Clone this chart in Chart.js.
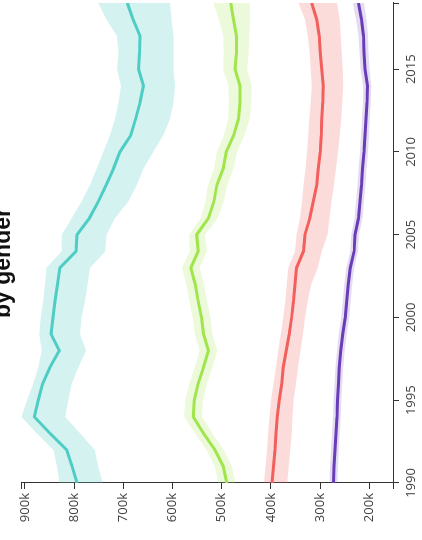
<!DOCTYPE html>
<html>
<head>
<meta charset="utf-8">
<script src="https://cdn.jsdelivr.net/npm/chart.js@4.4.1/dist/chart.umd.min.js"></script>
<style>
  html, body { margin: 0; padding: 0; background: #fff; overflow: hidden; }
  /* chart is drawn landscape and turned a quarter turn to the left */
  #wrap {
    position: absolute; left: 0; top: 0;
    width: 540px; height: 422px;
    transform-origin: 0 0;
    transform: translate(0, 540px) rotate(-90deg);
  }
  #chart { display: block; }
</style>
</head>
<body>
<div id="wrap"><canvas id="chart" width="540" height="422"></canvas></div>
<script>
const years = [1990, 1991, 1992, 1993, 1994, 1995, 1996, 1997, 1998, 1999,
               2000, 2001, 2002, 2003, 2004, 2005, 2006, 2007, 2008, 2009,
               2010, 2011, 2012, 2013, 2014, 2015, 2016, 2017, 2018, 2019];
const yearTicks = [1990, 1995, 2000, 2005, 2010, 2015];
const valueTicks = [200, 300, 400, 500, 600, 700, 800, 900];   // in thousands

// values in thousands
const tealMid  = [794, 804, 815, 849, 881, 873, 864, 849, 830, 847, 843, 839, 834, 829, 796,
                  794, 769, 751, 735, 720, 707, 685, 675, 666, 659, 669, 667, 666, 680, 692];
const tealHigh = [830, 835, 842, 876, 907, 896, 883, 873, 866, 871, 868, 863, 859, 856, 825,
                  825, 805, 785, 768, 754, 741, 727, 717, 710, 705, 713, 710, 713, 734, 751];
const tealLow  = [742, 751, 758, 788, 818, 812, 805, 791, 776, 788, 785, 778, 773, 768, 737,
                  734, 717, 690, 673, 659, 639, 619, 605, 598, 595, 598, 598, 598, 602, 605];

const greenMid  = [490, 497, 514, 537, 558, 556, 548, 537, 527, 537, 541, 548, 554, 563, 548,
                   551, 527, 516, 510, 497, 491, 476, 466, 463, 463, 473, 470, 470, 476, 482];
const greenHigh = [507, 514, 531, 555, 576, 574, 566, 555, 545, 555, 559, 566, 572, 581, 565,
                   566, 543, 533, 528, 516, 510, 496, 487, 486, 487, 497, 496, 497, 506, 517];
const greenLow  = [472, 479, 496, 519, 540, 538, 530, 519, 509, 519, 523, 530, 536, 545, 530,
                   534, 508, 496, 489, 476, 469, 454, 443, 440, 439, 448, 445, 444, 442, 443];

const redMid  = [398, 395, 392, 390, 387, 383, 378, 375, 369, 363, 358, 354, 351, 348, 334,
                 331, 321, 314, 307, 304, 300, 298, 297, 295, 294, 297, 300, 302, 307, 317];
const redHigh = [414, 411, 408, 406, 403, 400, 395, 390, 385, 380, 375, 371, 368, 365, 351,
                 348, 341, 337, 334, 330, 327, 324, 322, 319, 317, 319, 321, 325, 331, 344];
const redLow  = [367, 364, 361, 358, 356, 354, 349, 345, 340, 335, 331, 325, 318, 305, 297,
                 285, 281, 277, 272, 268, 264, 260, 257, 255, 253, 254, 256, 258, 260, 266];

const purpleMid  = [273, 272, 270, 268, 266, 265, 263, 261, 258, 254, 249, 246, 243, 239, 231,
                    229, 222, 219, 216, 214, 211, 209, 207, 205, 204, 209, 211, 212, 216, 222];
const purpleHigh = [281, 280, 278, 276, 274, 273, 271, 269, 266, 262, 257, 254, 251, 247, 239,
                    237, 230, 227, 224, 222, 219, 217, 215, 213, 213, 218, 220, 222, 227, 234];
const purpleLow  = [265, 264, 262, 260, 258, 257, 255, 253, 250, 246, 241, 238, 235, 231, 223,
                    221, 214, 211, 208, 206, 203, 201, 199, 197, 196, 200, 202, 203, 206, 211];

const axisColor = '#333';
const labelFont = { family: '"Open Sans", "Noto Sans", sans-serif', size: 13 };

const groups = [
  { mid: tealMid,   high: tealHigh,   low: tealLow,   line: '#4ecdc4', band: 'rgba(78, 205, 196, 0.25)' },
  { mid: greenMid,  high: greenHigh,  low: greenLow,  line: '#a0e54c', band: 'rgba(160, 229, 76, 0.2)' },
  { mid: redMid,    high: redHigh,    low: redLow,    line: '#f25f5c', band: 'rgba(242, 95, 92, 0.22)' },
  { mid: purpleMid, high: purpleHigh, low: purpleLow, line: '#6a3db8', band: 'rgba(106, 61, 184, 0.18)' }
];

const toPoints = vals => vals.map((v, i) => ({ x: years[i], y: v }));

// lines first so they are drawn on top of the bands
const datasets = [];
groups.forEach(g => {
  datasets.push({
    data: toPoints(g.mid), borderColor: g.line, borderWidth: 3,
    pointRadius: 0, tension: 0, fill: false
  });
});
groups.forEach(g => {
  datasets.push({
    data: toPoints(g.high), borderWidth: 0, pointRadius: 0, tension: 0,
    backgroundColor: g.band, fill: '+1'
  });
  datasets.push({
    data: toPoints(g.low), borderWidth: 0, pointRadius: 0, tension: 0, fill: false
  });
});

const outerTicks = {
  id: 'outerTicks',
  afterDraw(chart) {
    const { ctx, chartArea: a } = chart;
    ctx.save();
    ctx.strokeStyle = axisColor;
    ctx.lineWidth = 1;
    ctx.beginPath();
    ctx.moveTo(a.left - 6, a.top + 0.5);
    ctx.lineTo(a.left, a.top + 0.5);
    ctx.moveTo(a.left - 6, a.bottom + 0.5);
    ctx.lineTo(a.left, a.bottom + 0.5);
    ctx.moveTo(a.right - 0.5, a.bottom);
    ctx.lineTo(a.right - 0.5, a.bottom + 6);
    ctx.stroke();
    ctx.restore();
  }
};

const titleText = {
  id: 'titleText',
  afterDraw(chart) {
    const ctx = chart.ctx;
    ctx.save();
    ctx.font = 'bold 23px "Liberation Sans", Arial, sans-serif';
    ctx.fillStyle = '#111';
    ctx.textAlign = 'center';
    ctx.textBaseline = 'alphabetic';
    ctx.fillText('by gender', 277, 10);
    ctx.restore();
  }
};

new Chart(document.getElementById('chart'), {
  type: 'line',
  data: { datasets: datasets },
  plugins: [outerTicks, titleText],
  options: {
    responsive: false,
    animation: false,
    layout: { padding: { top: 21, right: 3, left: 0, bottom: 0 } },
    plugins: {
      legend: { display: false },
      tooltip: { enabled: false },
      title: { display: false }
    },
    scales: {
      x: {
        type: 'linear',
        min: 1990,
        max: 2019,
        bounds: 'data',
        afterBuildTicks: s => { s.ticks = yearTicks.map(v => ({ value: v })); },
        afterFit: s => { s.height = 29; },
        grid: { drawOnChartArea: false, tickLength: 6, color: axisColor },
        border: { color: axisColor },
        ticks: {
          padding: 4, color: '#444', font: labelFont, maxRotation: 0,
          callback: v => String(v)
        }
      },
      y: {
        min: 152,
        max: 908,
        bounds: 'data',
        afterBuildTicks: s => { s.ticks = valueTicks.map(v => ({ value: v })); },
        afterFit: s => { s.width = 57; },
        grid: { drawOnChartArea: false, tickLength: 6, color: axisColor },
        border: { color: axisColor },
        ticks: {
          padding: 4, color: '#444', font: labelFont,
          callback: v => v + 'k'
        }
      }
    }
  }
});
</script>
</body>
</html>
